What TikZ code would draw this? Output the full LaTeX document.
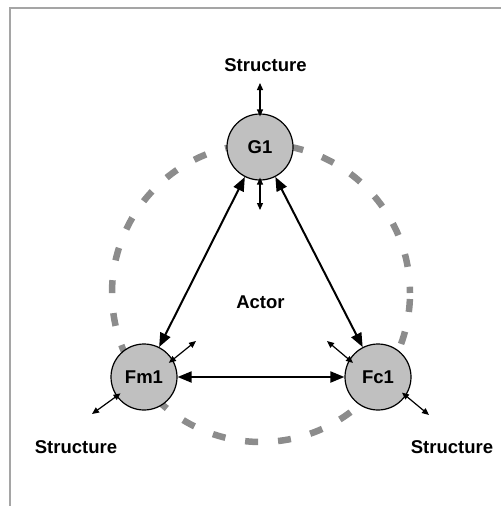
\documentclass[tikz,border=0pt]{standalone}
\usepackage{fontspec}
\setmainfont{Liberation Sans}
\usetikzlibrary{arrows.meta}
\definecolor{framegray}{RGB}{165,165,165}
\definecolor{dashgray}{RGB}{140,140,140}
\definecolor{nodegray}{RGB}{192,192,192}
\tikzset{
  actornode/.style={circle, draw=black, line width=1.2pt, fill=nodegray, minimum size=66pt, inner sep=0pt, font=\bfseries\fontsize{18.5}{20}\selectfont},
  labeltext/.style={font=\bfseries\fontsize{18.5}{20}\selectfont, inner sep=0pt},
  mainarrow/.style={line width=2pt, {Triangle[length=14pt,width=11pt]}-{Triangle[length=14pt,width=11pt]}},
  smallarrow/.style={line width=1.2pt, {Triangle[length=7pt,width=6pt]}-{Triangle[length=7pt,width=6pt]}},
}
\begin{document}
\begin{tikzpicture}[x=1pt,y=-1pt]
\useasboundingbox (0,0) rectangle (501,506);
% frame
\draw[framegray, line width=1.5pt] (10,506) -- (10,8) -- (501,8);
% dashed circle
\draw[dashgray, line width=6.5pt, dash pattern=on 13pt off 20pt, dash phase=27pt] (261,293) circle[radius=149];
% nodes
\node[actornode] (G1) at (260,147) {G1};
\node[actornode] (Fm1) at (144,377) {Fm1};
\node[actornode] (Fc1) at (378,377) {Fc1};
\node[labeltext] (actor) at (260.5,302) {Actor};
\node[labeltext] (stop) at (265.5,65) {Structure};
\node[labeltext] (sleft) at (76,447) {Structure};
\node[labeltext] (sright) at (452,447) {Structure};
% free ends
\coordinate (gtop) at (260,83);
\coordinate (gbot) at (260,210);
\coordinate (fmne) at (196,341);
\coordinate (fmsw) at (92,414);
\coordinate (fcnw) at (327,341);
\coordinate (fcse) at (429,415);
% main arrows
\draw[mainarrow] (G1) -- (Fm1);
\draw[mainarrow] (G1) -- (Fc1);
\draw[mainarrow] (Fm1) -- (Fc1);
% small arrows
\draw[smallarrow, shorten >=-3pt] (gtop) -- (G1.north);
\draw[smallarrow, shorten <=-3pt] (G1.south) -- (gbot);
\draw[smallarrow, shorten <=-5pt] (Fm1.31) -- (fmne);
\draw[smallarrow, shorten <=-5pt] (Fm1.215) -- (fmsw);
\draw[smallarrow, shorten <=-5pt] (Fc1.149) -- (fcnw);
\draw[smallarrow, shorten <=-5pt] (Fc1.-34) -- (fcse);
\end{tikzpicture}
\end{document}
